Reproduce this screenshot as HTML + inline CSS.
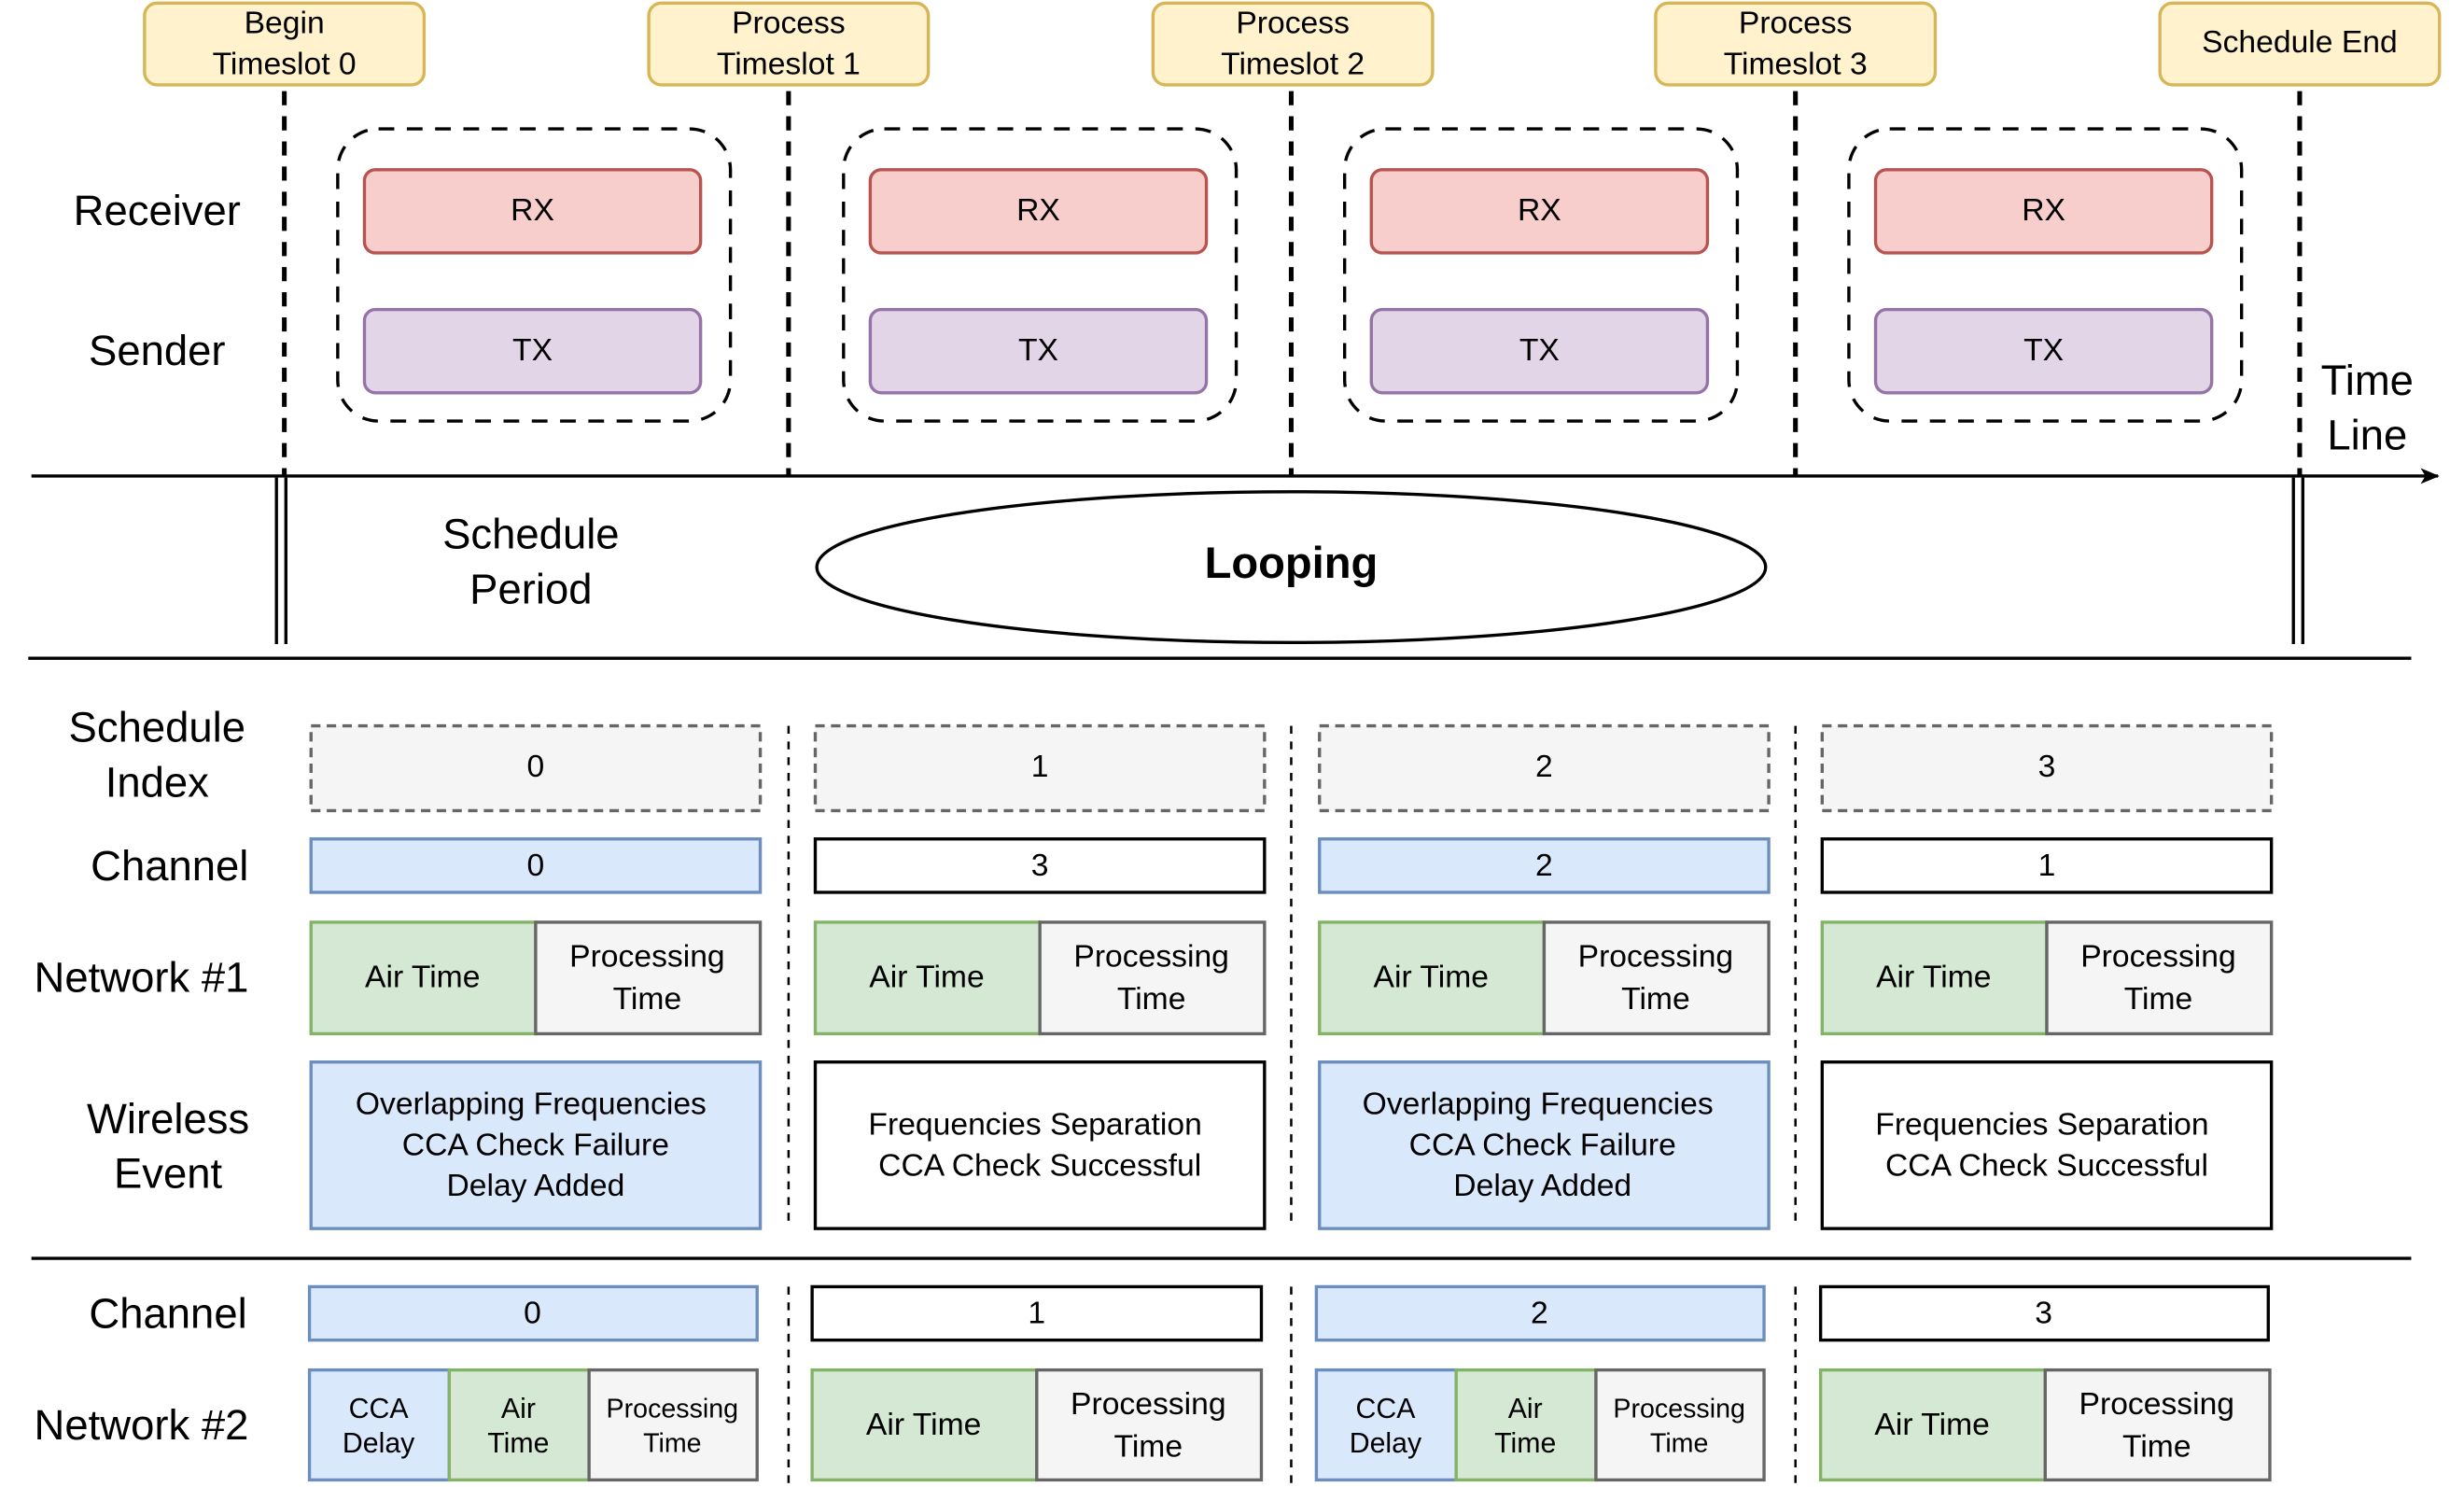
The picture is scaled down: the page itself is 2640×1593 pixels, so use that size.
<!DOCTYPE html>
<html><head><meta charset="utf-8"><style>
html,body{margin:0;padding:0;background:#fff;}
svg{display:block;}
text{font-family:"Liberation Sans",Arial,sans-serif;fill:#000;text-anchor:middle;dominant-baseline:central;}
</style></head><body>
<svg width="2640" height="1593" viewBox="0 0 1568.6 946.5" preserveAspectRatio="none" xmlns="http://www.w3.org/2000/svg">
<defs>
<marker id="ah" markerWidth="12" markerHeight="10" refX="11" refY="5" orient="auto" markerUnits="userSpaceOnUse">
<path d="M0,0 L12,5 L0,10 L3,5 Z" fill="#000"/></marker>
<g id="slot">
<rect x="215" y="82" width="250" height="186" rx="26" fill="none" stroke="#000" stroke-width="2" stroke-dasharray="10 8"/>
<rect x="232" y="108" width="214" height="53" rx="7" fill="#f8cecc" stroke="#b85450" stroke-width="2"/>
<text x="339" y="134" font-size="20">RX</text>
<rect x="232" y="197" width="214" height="53" rx="7" fill="#e1d5e7" stroke="#9673a6" stroke-width="2"/>
<text x="339" y="223" font-size="20">TX</text>
</g>
</defs>

<g font-size="20">
<rect x="92" y="2" width="178" height="52" rx="8" fill="#fff2cc" stroke="#d6b656" stroke-width="2"/>
<text x="181" y="15">Begin</text><text x="181" y="41">Timeslot 0</text>
<rect x="413" y="2" width="178" height="52" rx="8" fill="#fff2cc" stroke="#d6b656" stroke-width="2"/>
<text x="502" y="15">Process</text><text x="502" y="41">Timeslot 1</text>
<rect x="734" y="2" width="178" height="52" rx="8" fill="#fff2cc" stroke="#d6b656" stroke-width="2"/>
<text x="823" y="15">Process</text><text x="823" y="41">Timeslot 2</text>
<rect x="1054" y="2" width="178" height="52" rx="8" fill="#fff2cc" stroke="#d6b656" stroke-width="2"/>
<text x="1143" y="15">Process</text><text x="1143" y="41">Timeslot 3</text>
<rect x="1375" y="2" width="178" height="52" rx="8" fill="#fff2cc" stroke="#d6b656" stroke-width="2"/>
<text x="1464" y="27">Schedule End</text>
</g>

<g stroke="#000" stroke-width="3" stroke-dasharray="9 7">
<line x1="181" y1="58" x2="181" y2="303"/><line x1="502" y1="58" x2="502" y2="303"/>
<line x1="822" y1="58" x2="822" y2="303"/><line x1="1143" y1="58" x2="1143" y2="303"/>
<line x1="1464" y1="58" x2="1464" y2="303"/>
</g>

<use href="#slot"/>
<use href="#slot" x="322"/>
<use href="#slot" x="641"/>
<use href="#slot" x="962"/>

<text x="100" y="134" font-size="27">Receiver</text>
<text x="100" y="223" font-size="27">Sender</text>
<text x="1507" y="242" font-size="27">Time</text>
<text x="1507" y="277" font-size="27">Line</text>

<line x1="20" y1="303" x2="1552" y2="303" stroke="#000" stroke-width="2" marker-end="url(#ah)"/>
<g stroke="#000" stroke-width="2">
<line x1="176" y1="304" x2="176" y2="410"/><line x1="182" y1="304" x2="182" y2="410"/>
<line x1="1460" y1="304" x2="1460" y2="410"/><line x1="1466" y1="304" x2="1466" y2="410"/>
</g>
<text x="338" y="340" font-size="27">Schedule</text>
<text x="338" y="375" font-size="27">Period</text>
<ellipse cx="822" cy="361" rx="302" ry="48" fill="#fff" stroke="#000" stroke-width="2"/>
<text x="822" y="358" font-size="28" font-weight="bold">Looping</text>
<line x1="18" y1="419" x2="1535" y2="419" stroke="#000" stroke-width="2"/>

<g stroke="#000" stroke-width="1.5" stroke-dasharray="5 5">
<line x1="502" y1="462" x2="502" y2="782"/><line x1="822" y1="462" x2="822" y2="782"/><line x1="1143" y1="462" x2="1143" y2="782"/>
<line x1="502" y1="819" x2="502" y2="946"/><line x1="822" y1="819" x2="822" y2="946"/><line x1="1143" y1="819" x2="1143" y2="946"/>
</g>

<text x="100" y="463" font-size="27">Schedule</text>
<text x="100" y="498" font-size="27">Index</text>
<text x="108" y="551" font-size="27">Channel</text>
<text x="90" y="622" font-size="27">Network #1</text>
<text x="107" y="712" font-size="27">Wireless</text>
<text x="107" y="747" font-size="27">Event</text>
<text x="107" y="836" font-size="27">Channel</text>
<text x="90" y="907" font-size="27">Network #2</text>

<g font-size="20">
<rect x="198" y="462" width="286" height="54" fill="#f5f5f5" stroke="#666" stroke-width="2" stroke-dasharray="6 4"/><text x="341" y="488" fill="#333">0</text>
<rect x="519" y="462" width="286" height="54" fill="#f5f5f5" stroke="#666" stroke-width="2" stroke-dasharray="6 4"/><text x="662" y="488" fill="#333">1</text>
<rect x="840" y="462" width="286" height="54" fill="#f5f5f5" stroke="#666" stroke-width="2" stroke-dasharray="6 4"/><text x="983" y="488" fill="#333">2</text>
<rect x="1160" y="462" width="286" height="54" fill="#f5f5f5" stroke="#666" stroke-width="2" stroke-dasharray="6 4"/><text x="1303" y="488" fill="#333">3</text>

<rect x="198" y="534" width="286" height="34" fill="#dae8fc" stroke="#6c8ebf" stroke-width="2"/><text x="341" y="551">0</text>
<rect x="519" y="534" width="286" height="34" fill="#fff" stroke="#000" stroke-width="2"/><text x="662" y="551">3</text>
<rect x="840" y="534" width="286" height="34" fill="#dae8fc" stroke="#6c8ebf" stroke-width="2"/><text x="983" y="551">2</text>
<rect x="1160" y="534" width="286" height="34" fill="#fff" stroke="#000" stroke-width="2"/><text x="1303" y="551">1</text>

<rect x="198" y="587" width="143" height="71" fill="#d5e8d4" stroke="#82b366" stroke-width="2"/><text x="269" y="622">Air Time</text>
<rect x="341" y="587" width="143" height="71" fill="#f5f5f5" stroke="#666" stroke-width="2"/><text x="412" y="609" fill="#333">Processing</text><text x="412" y="636" fill="#333">Time</text>
<rect x="519" y="587" width="143" height="71" fill="#d5e8d4" stroke="#82b366" stroke-width="2"/><text x="590" y="622">Air Time</text>
<rect x="662" y="587" width="143" height="71" fill="#f5f5f5" stroke="#666" stroke-width="2"/><text x="733" y="609" fill="#333">Processing</text><text x="733" y="636" fill="#333">Time</text>
<rect x="840" y="587" width="143" height="71" fill="#d5e8d4" stroke="#82b366" stroke-width="2"/><text x="911" y="622">Air Time</text>
<rect x="983" y="587" width="143" height="71" fill="#f5f5f5" stroke="#666" stroke-width="2"/><text x="1054" y="609" fill="#333">Processing</text><text x="1054" y="636" fill="#333">Time</text>
<rect x="1160" y="587" width="143" height="71" fill="#d5e8d4" stroke="#82b366" stroke-width="2"/><text x="1231" y="622">Air Time</text>
<rect x="1303" y="587" width="143" height="71" fill="#f5f5f5" stroke="#666" stroke-width="2"/><text x="1374" y="609" fill="#333">Processing</text><text x="1374" y="636" fill="#333">Time</text>

<rect x="198" y="676" width="286" height="106" fill="#dae8fc" stroke="#6c8ebf" stroke-width="2"/>
<text x="338" y="703">Overlapping Frequencies</text><text x="341" y="729">CCA Check Failure</text><text x="341" y="755">Delay Added</text>
<rect x="519" y="676" width="286" height="106" fill="#fff" stroke="#000" stroke-width="2"/>
<text x="659" y="716">Frequencies Separation</text><text x="662" y="742">CCA Check Successful</text>
<rect x="840" y="676" width="286" height="106" fill="#dae8fc" stroke="#6c8ebf" stroke-width="2"/>
<text x="979" y="703">Overlapping Frequencies</text><text x="982" y="729">CCA Check Failure</text><text x="982" y="755">Delay Added</text>
<rect x="1160" y="676" width="286" height="106" fill="#fff" stroke="#000" stroke-width="2"/>
<text x="1300" y="716">Frequencies Separation</text><text x="1303" y="742">CCA Check Successful</text>
</g>

<line x1="20" y1="801" x2="1535" y2="801" stroke="#000" stroke-width="2"/>

<g font-size="20">
<rect x="197" y="819" width="285" height="34" fill="#dae8fc" stroke="#6c8ebf" stroke-width="2"/><text x="339" y="836">0</text>
<rect x="517" y="819" width="286" height="34" fill="#fff" stroke="#000" stroke-width="2"/><text x="660" y="836">1</text>
<rect x="838" y="819" width="285" height="34" fill="#dae8fc" stroke="#6c8ebf" stroke-width="2"/><text x="980" y="836">2</text>
<rect x="1159" y="819" width="285" height="34" fill="#fff" stroke="#000" stroke-width="2"/><text x="1301" y="836">3</text>

<rect x="197" y="872" width="89" height="70" fill="#dae8fc" stroke="#6c8ebf" stroke-width="2"/>
<text x="241" y="897" font-size="18">CCA</text><text x="241" y="919" font-size="18">Delay</text>
<rect x="286" y="872" width="89" height="70" fill="#d5e8d4" stroke="#82b366" stroke-width="2"/>
<text x="330" y="897" font-size="18">Air</text><text x="330" y="919" font-size="18">Time</text>
<rect x="375" y="872" width="107" height="70" fill="#f5f5f5" stroke="#666" stroke-width="2"/>
<text x="428" y="897" font-size="17" fill="#333">Processing</text><text x="428" y="919" font-size="17" fill="#333">Time</text>

<rect x="517" y="872" width="143" height="70" fill="#d5e8d4" stroke="#82b366" stroke-width="2"/><text x="588" y="907">Air Time</text>
<rect x="660" y="872" width="143" height="70" fill="#f5f5f5" stroke="#666" stroke-width="2"/><text x="731" y="894" fill="#333">Processing</text><text x="731" y="921" fill="#333">Time</text>

<rect x="838" y="872" width="89" height="70" fill="#dae8fc" stroke="#6c8ebf" stroke-width="2"/>
<text x="882" y="897" font-size="18">CCA</text><text x="882" y="919" font-size="18">Delay</text>
<rect x="927" y="872" width="89" height="70" fill="#d5e8d4" stroke="#82b366" stroke-width="2"/>
<text x="971" y="897" font-size="18">Air</text><text x="971" y="919" font-size="18">Time</text>
<rect x="1016" y="872" width="107" height="70" fill="#f5f5f5" stroke="#666" stroke-width="2"/>
<text x="1069" y="897" font-size="17" fill="#333">Processing</text><text x="1069" y="919" font-size="17" fill="#333">Time</text>

<rect x="1159" y="872" width="143" height="70" fill="#d5e8d4" stroke="#82b366" stroke-width="2"/><text x="1230" y="907">Air Time</text>
<rect x="1302" y="872" width="143" height="70" fill="#f5f5f5" stroke="#666" stroke-width="2"/><text x="1373" y="894" fill="#333">Processing</text><text x="1373" y="921" fill="#333">Time</text>
</g>
</svg>
</body></html>
